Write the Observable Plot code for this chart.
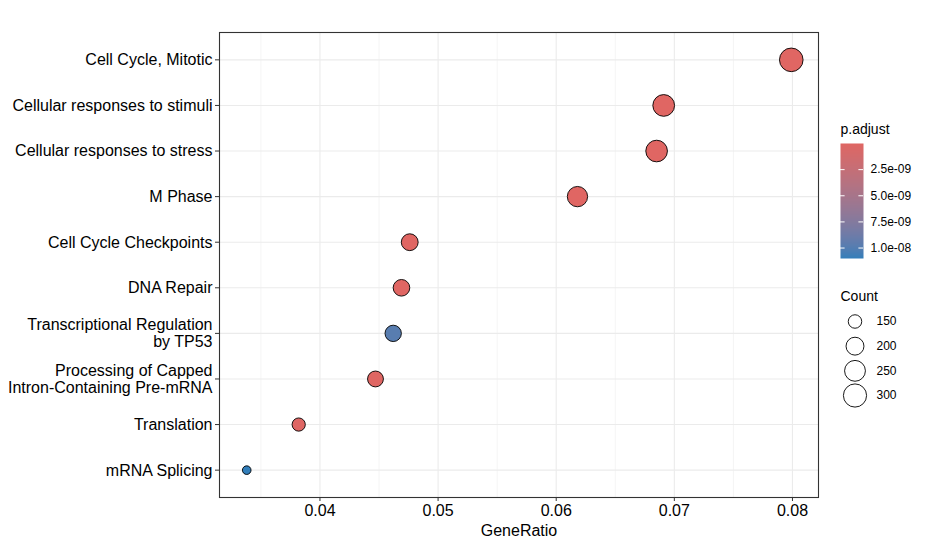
<!DOCTYPE html>
<html><head><meta charset="utf-8">
<script src="https://cdn.jsdelivr.net/npm/d3@7"></script>
<script src="https://cdn.jsdelivr.net/npm/@observablehq/plot@0.6"></script>
<style>
html,body{margin:0;padding:0;background:#fff;}
#wrap{position:relative;width:925px;height:547px;overflow:hidden;background:#fff;}
#wrap svg{position:absolute;overflow:visible;}
</style></head><body><div id="wrap"></div>
<script>
const categories = [
  "Cell Cycle, Mitotic",
  "Cellular responses to stimuli",
  "Cellular responses to stress",
  "M Phase",
  "Cell Cycle Checkpoints",
  "DNA Repair",
  "Transcriptional Regulation\nby TP53",
  "Processing of Capped\nIntron-Containing Pre-mRNA",
  "Translation",
  "mRNA Splicing"
];
const geneRatio = [0.0799, 0.0691, 0.0685, 0.0618, 0.0476, 0.0469, 0.0462, 0.0447, 0.0382, 0.0338];
const counts    = [310, 268, 266, 240, 185, 182, 179, 173, 148, 131];
const pAdjust   = [1e-20, 3e-16, 2e-15, 5e-14, 1e-11, 4e-11, 9.8e-9, 6e-11, 9e-11, 1.1e-8];
const xTicks = [0.04, 0.05, 0.06, 0.07, 0.08];
const xMinorTicks = [0.035, 0.045, 0.055, 0.065, 0.075];
const pTicks = [2.5e-9, 5e-9, 7.5e-9, 1e-8];
const pTickLabels = ["2.5e-09", "5.0e-09", "7.5e-09", "1.0e-08"];
const countBreaks = [150, 200, 250, 300];

const data = categories.map((name, i) => ({name, ratio: geneRatio[i], count: counts[i], p: pAdjust[i]}));

const font = '"Liberation Sans", Arial, Helvetica, sans-serif';
const pMin = d3.min(pAdjust), pMax = d3.max(pAdjust);
const colorScale = {type: "linear", domain: [pMin, pMax], range: ["#e06663", "#327eba"], interpolate: "lab"};
const cMin = d3.min(counts), cMax = d3.max(counts);
const rScale = {type: "sqrt", transform: d => d - cMin, domain: [0, cMax - cMin], range: [4.3, 11.8]};
const [gMin, gMax] = d3.extent(geneRatio);
const ex = 0.05 * (gMax - gMin);

const main = Plot.plot({
  width: 925, height: 547,
  marginLeft: 219, marginRight: 107, marginTop: 32, marginBottom: 50,
  style: {fontFamily: font, background: "white", color: "black", overflow: "visible"},
  x: {domain: [gMin - ex, gMax + ex]},
  y: {type: "point", domain: categories, padding: 0.6, round: false},
  r: rScale,
  color: colorScale,
  marks: [
    Plot.ruleX(xMinorTicks, {stroke: "#ebebeb", strokeWidth: 0.55}),
    Plot.ruleX(xTicks, {stroke: "#ebebeb", strokeWidth: 1.1}),
    Plot.ruleY(categories, {stroke: "#ebebeb", strokeWidth: 1.1}),
    Plot.frame({stroke: "#333333", strokeWidth: 1.1}),
    Plot.axisX({ticks: xTicks, tickFormat: d => d.toFixed(2), tickSize: 4, tickPadding: 3, fontSize: 16,
      stroke: "#333333", fill: "black", label: "GeneRatio", labelAnchor: "center", labelArrow: "none", labelOffset: 38}),
    Plot.axisY({tickSize: 4, tickPadding: 3, fontSize: 16, lineHeight: 1.06, stroke: "#333333", fill: "black", label: null}),
    Plot.dot(data, {x: "ratio", y: "name", r: "count", fill: "p", stroke: "black", strokeWidth: 0.9})
  ]
});
main.style.left = "0px"; main.style.top = "0px";

const legC = Plot.plot({
  width: 95, height: 160, margin: 0,
  style: {fontFamily: font, background: "transparent", color: "black", overflow: "visible"},
  x: {domain: [0, 1], range: [10, 33], axis: null},
  y: {domain: [pMin, pMax], range: [33, 148], axis: null},
  color: colorScale,
  marks: [
    Plot.raster({x1: 0, x2: 1, y1: pMin, y2: pMax, width: 1, height: 115, fill: (x, y) => y}),
    Plot.ruleY(pTicks, {x1: 0, x2: 0.2, stroke: "white", strokeWidth: 1}),
    Plot.ruleY(pTicks, {x1: 0.8, x2: 1, stroke: "white", strokeWidth: 1}),
    Plot.text(pTickLabels, {x: () => 1, y: (d, i) => pTicks[i], text: d => d, dx: 7, textAnchor: "start", fontSize: 12, fill: "black"}),
    Plot.text(["p.adjust"], {frameAnchor: "top-left", text: d => d, dx: 10, dy: 23, lineAnchor: "bottom", textAnchor: "start", fontSize: 14, fill: "black"})
  ]
});
legC.style.left = "830px"; legC.style.top = "110px";

const legS = Plot.plot({
  width: 95, height: 130, margin: 0,
  style: {fontFamily: font, background: "transparent", color: "black", overflow: "visible"},
  x: {domain: [0, 1], range: [24.5, 46], axis: null},
  y: {type: "point", domain: countBreaks, range: [41, 115], padding: 0, round: false, axis: null},
  r: rScale,
  marks: [
    Plot.dot(countBreaks, {x: () => 0, y: d => d, r: d => d, fill: "none", stroke: "black", strokeWidth: 0.9}),
    Plot.text(countBreaks, {x: () => 1, y: d => d, text: d => String(d), textAnchor: "start", fontSize: 12, fill: "black"}),
    Plot.text(["Count"], {frameAnchor: "top-left", text: d => d, dx: 10, dy: 20, lineAnchor: "bottom", textAnchor: "start", fontSize: 14, fill: "black"})
  ]
});
legS.style.left = "830px"; legS.style.top = "280px";

const wrap = document.getElementById("wrap");
wrap.appendChild(main);
wrap.appendChild(legC);
wrap.appendChild(legS);
</script>
</body></html>
